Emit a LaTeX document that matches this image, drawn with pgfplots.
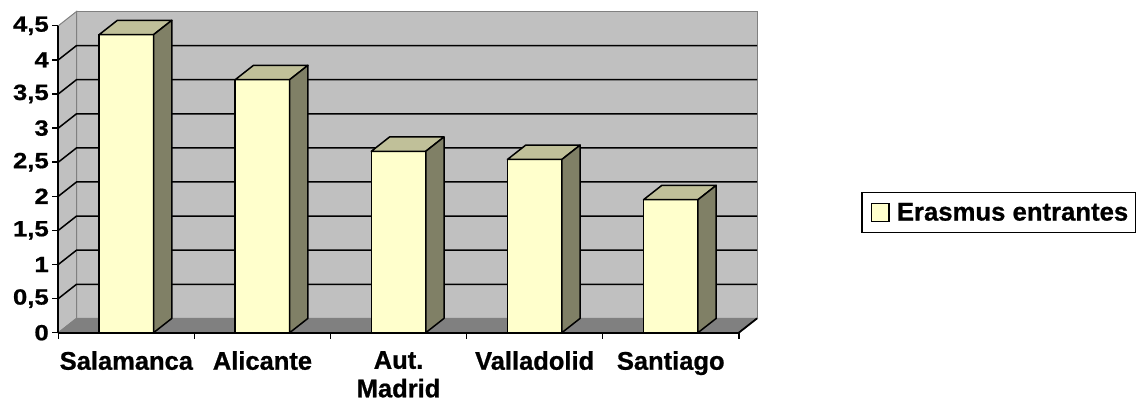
\documentclass[border=0pt]{standalone}
\usepackage{pgfplots}
\pgfplotsset{compat=1.18}
\usepackage{pgfplotstable}
\usepackage{fontspec}
\setmainfont{Liberation Sans}
\newfontfamily\heavy[FakeBold=0.8]{Liberation Sans Bold}
\newfontfamily\wide[FakeStretch=1.17, FakeBold=0.8]{Liberation Sans Bold}

\definecolor{barfront}{HTML}{FFFFCC}
\definecolor{bartop}{HTML}{C0C099}
\definecolor{barside}{HTML}{808066}
\definecolor{wall}{HTML}{C0C0C0}
\definecolor{floorc}{HTML}{808080}

% Erasmus entrantes por universidad
\pgfplotstableread{
x y
0.5 4.37
1.5 3.71
2.5 2.66
3.5 2.54
4.5 1.95
}\erasmus

% depth offset of the 3D effect, half bar width (axis units)
\def\dx{0.134}
\def\dy{0.21}
\def\hw{0.2}

\begin{document}
\begin{tikzpicture}
\begin{axis}[
  anchor=origin, at={(58.3pt,72.3pt)},
  x=136.1pt, y=68.2pt,
  xmin=0, xmax=5, ymin=0, ymax=4.5,
  clip=false, axis on top,
  axis x line*=bottom, axis y line*=left,
  axis line style={black, line width=1.8pt, -},
  tick align=outside, major tick length=6pt,
  tick style={black, line width=1.4pt},
  xtick={0,...,5}, x tick label as interval,
  xticklabels={Salamanca, Alicante, {Aut.\\Madrid}, Valladolid, Santiago},
  xticklabel style={font=\heavy\fontsize{25.5}{28.5}\selectfont, align=center, yshift=-9pt},
  ytick={0,0.5,...,4.5},
  yticklabel style={font=\wide\fontsize{22}{24}\selectfont},
  /pgf/number format/use comma,
  /pgf/number format/assume math mode=true,
  legend style={at={(1.1796,0.3917)}, anchor=west, draw=black, line width=1.5pt,
    font=\heavy\fontsize{25.7}{30}\selectfont, inner sep=0pt,
    nodes={inner sep=0pt}, column sep=0pt},
  legend image code/.code={
    \path[draw=none, fill=none] (-9.7pt,-20pt) rectangle (25.4pt,20pt);
    \draw[fill=barfront, draw=black, line width=1.2pt] (0pt,-8.7pt) rectangle (17.5pt,8.7pt);},
]
% walls and floor
\addplot[fill=wall, draw=floorc, line width=1pt, forget plot] coordinates {(0.134,0.21) (5.134,0.21) (5.134,4.71) (0.134,4.71)} -- cycle;
\addplot[fill=wall, draw=floorc, line width=1pt, forget plot] coordinates {(0,0) (0.134,0.21) (0.134,4.71) (0,4.5)} -- cycle;
\addplot[fill=floorc, draw=floorc, line width=1pt, forget plot] coordinates {(0,0) (5,0) (5.134,0.21) (0.134,0.21)} -- cycle;
\addplot[black, line width=1.8pt, forget plot] coordinates {(5,0) (5.134,0.21)};

% grid lines on side and back wall
\pgfplotsinvokeforeach{0.5,1,...,4}{
  \pgfmathsetmacro\gy{#1+\dy}
  \edef\tmp{\noexpand\addplot[black, line width=1.5pt, forget plot] coordinates {(0,#1) (\dx,\gy) (5.134,\gy)};}
  \tmp
}

% bars: front faces
\addplot[ybar, bar width=0.4, fill=barfront, draw=black, line width=1.5pt] table[x=x, y=y] {\erasmus};
\addlegendentry{Erasmus entrantes\hspace*{7pt}}

% bars: top and side faces
\pgfplotsinvokeforeach{0,...,4}{
  \pgfplotstablegetelem{#1}{x}\of\erasmus \let\bx\pgfplotsretval
  \pgfplotstablegetelem{#1}{y}\of\erasmus \let\by\pgfplotsretval
  \pgfmathsetmacro\xl{\bx-\hw}
  \pgfmathsetmacro\xr{\bx+\hw}
  \pgfmathsetmacro\xlb{\xl+\dx}
  \pgfmathsetmacro\xrb{\xr+\dx}
  \pgfmathsetmacro\yb{\by+\dy}
  \edef\tmp{\noexpand\addplot[fill=bartop, draw=black, line width=1.5pt, line join=round, forget plot] coordinates {(\xl,\by) (\xr,\by) (\xrb,\yb) (\xlb,\yb)} -- cycle;
    \noexpand\addplot[fill=barside, draw=black, line width=1.5pt, line join=round, forget plot] coordinates {(\xr,0) (\xr,\by) (\xrb,\yb) (\xrb,\dy)} -- cycle;}
  \tmp
}
\end{axis}
\pgfresetboundingbox
\path (0,0) rectangle (1140pt,405pt);
\end{tikzpicture}
\end{document}
